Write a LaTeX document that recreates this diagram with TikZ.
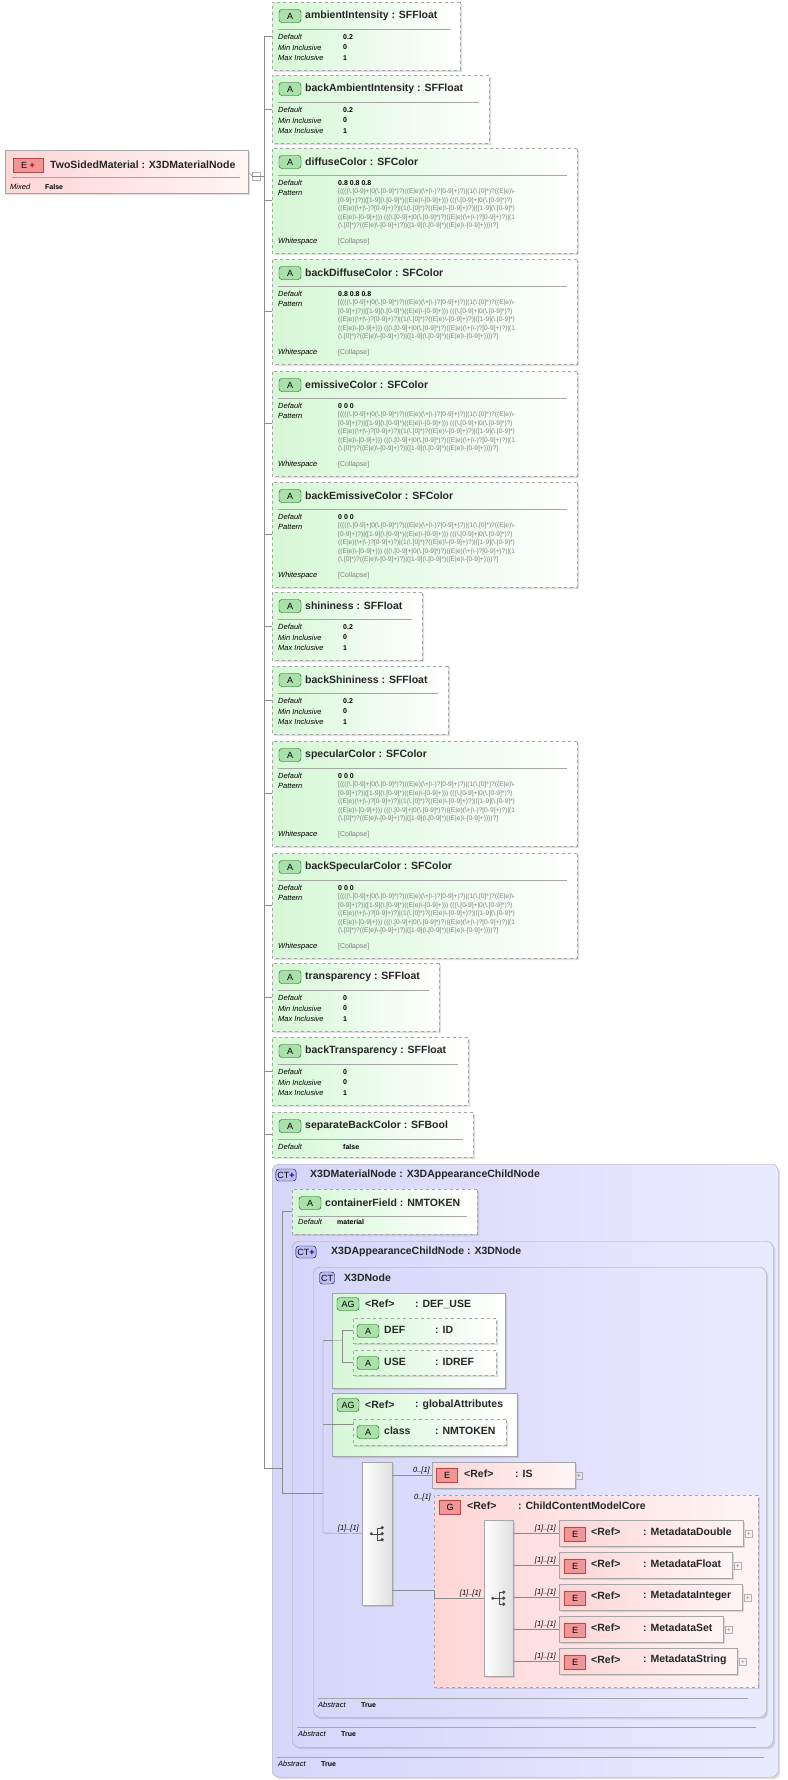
\documentclass[tikz,border=0pt]{standalone}
\usepackage{fontspec}
\setmainfont{Liberation Sans}
\usetikzlibrary{calc}
\usetikzlibrary{positioning}
\usetikzlibrary{shapes.misc}
\usetikzlibrary{shadows}

\definecolor{attrgreen}{RGB}{214,248,214}
\definecolor{badgegreen}{RGB}{170,225,170}
\definecolor{elempink}{RGB}{255,214,214}
\definecolor{badgepink}{RGB}{240,150,150}
\definecolor{ctblue}{RGB}{214,214,250}
\definecolor{badgeblue}{RGB}{190,190,245}
\definecolor{linegray}{RGB}{140,140,140}

% pattern of the SFColor attributes
\newcommand{\colpat}{%
\detokenize{[((((\.[0-9]+|0(\.[0-9]*)?)((E|e)(\+|\-)?[0-9]+)?)|(1(\.[0]*)?((E|e)\-}\\
\detokenize{[0-9]+)?)|([1-9](\.[0-9]*)((E|e)\-[0-9]+))) (((\.[0-9]+|0(\.[0-9]*)?)}\\
\detokenize{((E|e)(\+|\-)?[0-9]+)?)|(1(\.[0]*)?((E|e)\-[0-9]+)?)|([1-9](\.[0-9]*)}\\
\detokenize{((E|e)\-[0-9]+))) (((\.[0-9]+|0(\.[0-9]*)?)((E|e)(\+|\-)?[0-9]+)?)|(1}\\
\detokenize{(\.[0]*)?((E|e)\-[0-9]+)?)|([1-9](\.[0-9]*)((E|e)\-[0-9]+))))?]}}

% header of an attribute box: left, top, right, title
\newcommand{\ahead}[4]{%
  \node[abadge] at (#1+18,#2+14) {A};
  \node[title] at (#1+33,#2+14) {#4};
  \draw[sepline] (#1+6,#2+27) -- (#3-10,#2+27);}

% one row: x, y, label, value
\newcommand{\arow}[4]{%
  \node[lbl] at (#1,#2) {#3};
  \node[val] at (#1+65,#2) {#4};}

% float attribute: name, top, right, title, default, min, max
\newcommand{\attrf}[7]{%
  \node[attr, minimum width=#3pt-272pt, minimum height=68pt] (#1) at (272,#2) {};
  \ahead{272}{#2}{#3}{#4}
  \arow{278}{#2+35}{Default}{#5}
  \arow{278}{#2+45.5}{Min Inclusive}{#6}
  \arow{278}{#2+56}{Max Inclusive}{#7}}

% color attribute: name, top, title, default
\newcommand{\attrc}[4]{%
  \node[attr, minimum width=305pt, minimum height=105pt] (#1) at (272,#2) {};
  \ahead{272}{#2}{577}{#3}
  \node[lbl] at (278,#2+35) {Default};
  \node[val] at (338,#2+35) {#4};
  \node[lbl] at (278,#2+45) {Pattern};
  \node[pat] at (338,#2+41) {\colpat};
  \node[lbl] at (278,#2+94) {Whitespace};
  \node[val, text=gray, font=\fontsize{7}{8}\selectfont] at (338,#2+94) {[Collapse]};}

\begin{document}
\begin{tikzpicture}[x=1pt,y=-1pt]
\tikzset{
  attr/.style={chamfered rectangle, chamfered rectangle corners={north west,south west},
    chamfered rectangle xsep=6pt, chamfered rectangle ysep=6pt, anchor=north west, inner sep=0,
    draw=gray!70, dashed, left color=attrgreen, right color=white,
    drop shadow={shadow xshift=2pt, shadow yshift=-2pt, opacity=0.25}},
  elem/.style={rectangle, anchor=north west, inner sep=0, draw=gray!70,
    left color=elempink, right color=white!96!red,
    drop shadow={shadow xshift=2pt, shadow yshift=-2pt, opacity=0.25}},
  agbox/.style={chamfered rectangle, chamfered rectangle corners={north west,south west},
    chamfered rectangle xsep=8pt, chamfered rectangle ysep=8pt, anchor=north west, inner sep=0,
    draw=gray!70, left color=attrgreen, right color=white,
    drop shadow={shadow xshift=2pt, shadow yshift=-2pt, opacity=0.25}},
  ctbox/.style={rectangle, rounded corners=7pt, anchor=north west, inner sep=0, draw=gray!70,
    left color=ctblue, right color=white!92!blue,
    drop shadow={shadow xshift=2pt, shadow yshift=-2pt, opacity=0.25}},
  modelbox/.style={rectangle, anchor=north west, inner sep=0, draw=gray!70,
    left color=white, right color=gray!25,
    drop shadow={shadow xshift=2pt, shadow yshift=-2pt, opacity=0.25}},
  abadge/.style={rectangle, rounded corners=3pt, draw=green!35!black, fill=badgegreen,
    minimum width=22pt, minimum height=13pt, inner sep=0, font=\fontsize{9}{10}\selectfont},
  ebadge/.style={rectangle, draw=red!45!gray, fill=badgepink,
    minimum width=21pt, minimum height=14pt, inner sep=0, font=\fontsize{9}{10}\selectfont},
  ctbadge/.style={rectangle, rounded corners=3pt, draw=blue!40!black, fill=badgeblue,
    minimum height=12pt, inner sep=1.5pt, font=\fontsize{9}{10}\selectfont},
  title/.style={anchor=west, inner sep=0, text=black!85, font=\fontsize{10.5}{12}\selectfont\bfseries},
  lbl/.style={anchor=west, inner sep=0, font=\fontsize{7.5}{9}\selectfont\itshape},
  val/.style={anchor=west, inner sep=0, font=\fontsize{7}{9}\selectfont\bfseries},
  pat/.style={anchor=north west, inner sep=0, align=left, text=gray,
    font=\fontsize{6.6}{8.5}\selectfont},
  mult/.style={inner sep=0, font=\fontsize{7.5}{9}\selectfont\itshape},
  plusbox/.style={draw=gray!60, inner sep=0, minimum size=7pt, text=gray, font=\fontsize{7}{7}\selectfont},
  sepline/.style={draw=gray!70},
  conn/.style={draw=linegray}
}
\useasboundingbox (0,0) rectangle (787,1780);

% root element
\node[elem, minimum width=243pt, minimum height=43pt] (root) at (5,150) {};
\node[ebadge, minimum width=30pt] (rootbadge) at (28,165) {E \textcolor{red!70!black}{\bfseries+}};
\node[title] at (50,165) {TwoSidedMaterial : X3DMaterialNode};
\draw[sepline] (12,177) -- (240,177);
\node[lbl] at (10,187) {Mixed};
\node[val] at (45,187) {False};
\node[draw=gray!60, fill=white, inner sep=0, minimum size=8pt] (rootminus) at (256,176) {};
\draw[gray] (rootminus.west) -- (rootminus.east);

% attributes
\attrf{ambient}{2}{460}{ambientIntensity : SFFloat}{0.2}{0}{1}
\attrf{backambient}{75}{489}{backAmbientIntensity : SFFloat}{0.2}{0}{1}
\attrc{diffuse}{148}{diffuseColor : SFColor}{0.8 0.8 0.8}
\attrc{backdiffuse}{259}{backDiffuseColor : SFColor}{0.8 0.8 0.8}
\attrc{emissive}{371}{emissiveColor : SFColor}{0 0 0}
\attrc{backemissive}{482}{backEmissiveColor : SFColor}{0 0 0}
\attrf{shininess}{592}{422}{shininess : SFFloat}{0.2}{0}{1}
\attrf{backshininess}{666}{448}{backShininess : SFFloat}{0.2}{0}{1}
\attrc{specular}{741}{specularColor : SFColor}{0 0 0}
\attrc{backspecular}{853}{backSpecularColor : SFColor}{0 0 0}
\attrf{transparency}{963}{439}{transparency : SFFloat}{0}{0}{1}
\attrf{backtransparency}{1037}{468}{backTransparency : SFFloat}{0}{0}{1}
\node[attr, minimum width=201pt, minimum height=45pt] (separate) at (272,1112) {};
\ahead{272}{1112}{473}{separateBackColor : SFBool}
\arow{278}{1147}{Default}{false}

% complex types
\node[ctbox, minimum width=506pt, minimum height=613pt] (material) at (272,1164) {};
\node[ctbadge] at (286,1175) {CT\textcolor{blue!60!black}{\bfseries+}};
\node[title] at (310,1175) {X3DMaterialNode : X3DAppearanceChildNode};
\node[attr, minimum width=185pt, minimum height=45pt] (cf) at (292,1189) {};
\ahead{292}{1189}{477}{containerField : NMTOKEN}
\node[lbl] at (298,1222) {Default};
\node[val] at (337,1222) {material};

\node[ctbox, minimum width=481pt, minimum height=506pt] (appchild) at (292,1241) {};
\node[ctbadge] at (306,1252) {CT\textcolor{blue!60!black}{\bfseries+}};
\node[title] at (331,1252) {X3DAppearanceChildNode : X3DNode};

\node[ctbox, minimum width=453pt, minimum height=450pt] (x3dnode) at (313,1267) {};
\node[ctbadge] at (327,1278) {CT};
\node[title] at (344,1278) {X3DNode};

% attribute groups
\node[agbox, minimum width=173pt, minimum height=95pt] (defuse) at (332,1293) {};
\node[abadge] at (348,1304) {AG};
\node[title] at (365,1304) {<Ref>};
\node[title] at (415,1304) {: DEF\_USE};
\node[attr, minimum width=143pt, minimum height=25pt] (def) at (353,1318) {};
\node[abadge] at (368,1331) {A};
\node[title] at (384,1330) {DEF};
\node[title] at (435,1330) {: ID};
\node[attr, minimum width=143pt, minimum height=25pt] (use) at (353,1350) {};
\node[abadge] at (368,1363) {A};
\node[title] at (384,1362) {USE};
\node[title] at (435,1362) {: IDREF};

\node[agbox, minimum width=185pt, minimum height=63pt] (global) at (332,1393) {};
\node[abadge] at (348,1405) {AG};
\node[title] at (365,1405) {<Ref>};
\node[title] at (415,1405) {: globalAttributes};
\node[attr, minimum width=153pt, minimum height=26pt] (class) at (353,1419) {};
\node[abadge] at (368,1432) {A};
\node[title] at (384,1431) {class};
\node[title] at (435,1431) {: NMTOKEN};

% sequence and its children
\node[modelbox, minimum width=30pt, minimum height=143pt] (seq) at (362,1462) {};
\node[elem, minimum width=143pt, minimum height=26pt] (is) at (432,1462) {};
\node[ebadge] at (447,1475) {E};
\node[title] at (464,1474) {<Ref>};
\node[title] at (515,1474) {: IS};
\node[plusbox] at (579,1476) {+};

\node[elem, dashed, minimum width=324pt, minimum height=192pt] (core) at (434,1495) {};
\node[ebadge, minimum width=21pt] at (450,1507) {G};
\node[title] at (467,1506) {<Ref>};
\node[title] at (518,1506) {: ChildContentModelCore};
\node[modelbox, minimum width=29pt, minimum height=156pt] (choice) at (484,1520) {};

\foreach \n/\t/\r/\lab in {mdouble/1520/743/MetadataDouble, mfloat/1552/732/MetadataFloat,
    minteger/1584/742/MetadataInteger, mset/1616/723/MetadataSet, mstring/1648/737/MetadataString} {
  \node[elem, minimum width=\r pt-559pt, minimum height=26pt] (\n) at (559,\t) {};
  \node[ebadge] at (575,\t+14) {E};
  \node[title] at (591,\t+12) {<Ref>};
  \node[title] at (643,\t+12) {: \lab};
  \node[plusbox] at (\r+6,\t+14) {+};
  \draw[conn] (choice.east |- \n.west) -- (\n.west);
  \node[mult, anchor=south east] at ($(\n.west)+(-3,-1)$) {[1]..[1]};
}

% model group icons
\foreach \m in {seq, choice} {
  \coordinate (\m-ic) at ($(\m.center)+(-6,0)$);
  \fill[black!70] (\m-ic) circle (1.6pt);
  \draw[black!70] (\m-ic) -- ++(6,0) ++(0,-6) -- ++(0,12);
  \foreach \d in {-6,0,6} {
    \draw[black!70] ($(\m-ic)+(6,\d)$) -- ++(5,0);
    \fill[black!70] ($(\m-ic)+(11,\d)$) circle (1.8pt);
  }
}

% abstract rows
\draw[sepline] (318,1698) -- (748,1698);
\node[lbl] at (318,1705) {Abstract};
\node[val] at (361,1705) {True};
\draw[sepline] (297,1727) -- (756,1727);
\node[lbl] at (298,1734) {Abstract};
\node[val] at (341,1734) {True};
\draw[sepline] (277,1757) -- (764,1757);
\node[lbl] at (278,1764) {Abstract};
\node[val] at (321,1764) {True};

% connectors
\coordinate (trunk) at (264,1468);
\coordinate (cfbus) at (282,1493);
\coordinate (agbus) at (323,1533);
\coordinate (dbus) at (342,1340);
\coordinate (gjoin) at (434,1590);

\draw[conn] (root.east) -- (rootminus.west);
\draw[conn] (rootminus.east) -- (rootminus.east -| trunk);
\draw[conn] (ambient.west -| trunk) -- (trunk) -- (trunk -| cfbus);
\foreach \n in {ambient,backambient,diffuse,backdiffuse,emissive,backemissive,shininess,
    backshininess,specular,backspecular,transparency,backtransparency,separate}
  \draw[conn] (\n.west -| trunk) -- (\n.west);
\draw[conn] (cf.west) -- (cf.west -| cfbus) -- (cfbus) -- (cfbus -| agbus);
\draw[conn] (defuse.west -| agbus) -- (agbus) -- (seq.west);
\draw[conn] (defuse.west -| agbus) -- (defuse.west);
\draw[conn] (global.west -| agbus) -- (global.west);
\draw[conn] (defuse.west) -- (dbus);
\draw[conn] (dbus |- def.west) -- (dbus |- use.west) -- (use.west);
\draw[conn] (dbus |- def.west) -- (def.west);
\draw[conn] (global.west) -- (global.west -| class.west);
\draw[conn] (seq.east |- is.west) -- (is.west);
\draw[conn] (seq.east |- gjoin) -- (gjoin) -- (gjoin |- choice.west) -- (choice.west);

\node[mult, anchor=south east] at ($(is.west)+(-2,-1)$) {0..[1]};
\node[mult, anchor=north east] at ($(core.north west)+(-3,-1)$) {0..[1]};
\node[mult, anchor=south east] at ($(seq.west)+(-3,-1)$) {[1]..[1]};
\node[mult, anchor=south east] at ($(choice.west)+(-3,-1)$) {[1]..[1]};
\end{tikzpicture}
\end{document}
